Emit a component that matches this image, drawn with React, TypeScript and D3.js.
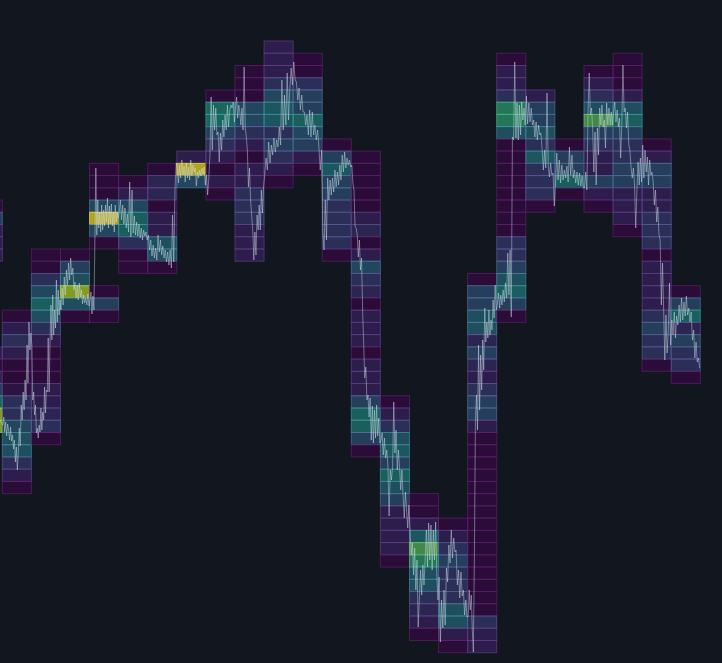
import * as d3 from "d3";

const WIDTH = 722;
const HEIGHT = 663;
const BACKGROUND = "#12161f";

// Session slots, left to right. Slot -1 is cut off by the left edge.
const sessions = [-1, 0, 1, 2, 3, 4, 5, 6, 7, 8, 9, 10, 11, 12, 13, 14, 15, 16, 17, 18, 19, 20, 21, 22, 23];

// Price bin index (0 = top bin) where each session's profile starts.
const profileStart = [13, 22, 17, 17, 10, 11, 10, 9, 4, 2, 0, 1, 8, 9, 29, 37, 39, 19, 1, 4, 8, 2, 1, 8, 20];

// Volume per price bin, null where the session left a hole.
const _ = null;
const profileVolume: (number | null)[][] = [
  [0, 6, 2, 2, 2, _, _, _, _, _, _, _, 2, 0, 3, 6, 11, 18, 18],
  [0, 2, 4, 2, 0, 0, 1, 4, 4, 7, 8, 8, 4, 2, 0],
  [0, 0, 4, 7, 10, 8, 4, 2, 0, 0, 0, 2, 2, 3, 4, 0],
  [0, 6, 8, 18, 8, 0],
  [0, 0, 0, 7, 20, 7, 0, _, _, _, 0, 6, 0],
  [0, 2, 7, 10, 10, 4, 0, 0],
  [0, 3, 3, 0, 2, 2, 8, 8, 0],
  [2, 20, 7],
  [0, 11, 11, 6, 4, 2, 0, 2, 0],
  [0, 0, 0, 7, 7, 4, 2, 0, 2, 2, 4, 4, 4, 2, 2, 2],
  [2, 2, 2, 4, 7, 9, 9, 4, 6, 4, 2, 0],
  [0, 0, 4, 6, 6, 10, 7, 6, 2, 0],
  [0, 6, 9, 6, 6, 4, 4, 4, 4, 0],
  [0, 0, 0, 0, 0, 2, 3, 0, 2, 7, 4, 3, 0, 2, 2, 2, 0, 2, 2, 2, 6, 10, 10, 6, 0],
  [0, 2, 4, 8, 9, 6, 10, 8, 6, 2, 2, 2, 2, 0],
  [0, 0, 2, 9, 15, 13, 8, 8, 4, 3, 2, 0],
  [0, 2, 4, 6, 4, 4, 4, 8, 8, 2, 0],
  [0, 6, 6, 8, 8, 3, 6, 3, 2, 4, 6, 6, 2, 0, 0, 0, 0, 0, 0, 0, 0, 0, 0, 0, 0, 0, 0, 0, 4, 2, 2],
  [0, 2, 2, 4, 13, 13, 8, 0, 0, 0, 0, 0, 0, 0, 0, 4, 4, 6, 8, 10, 6, 0],
  [2, 6, 6, 8, 4, 9, 4, 4, 4, 0],
  [0, 6, 6, 10, 0],
  [0, 2, 4, 8, 15, 6, 4, 2, 2, 6, 2, 0],
  [0, 0, 0, 2, 8, 10, 6, 4, 4, 6, 6, 2, 2, 2, 0],
  [0, 2, 6, 6, 2, 2, 4, 4, 4, 0, 2, 2, 2, 2, 4, 6, 4, 4, 0],
  [0, 6, 10, 3, 6, 4, 4, 0],
];

// Price path per session (700 minus the screen row).
const sessionPrices: number[][] = [
  [285, 275, 283],
  [275, 283, 268, 278, 264, 276, 270, 260, 273, 259, 265, 251, 260, 238, 253, 230, 248, 272, 254, 295, 280, 308, 290, 320, 300, 355, 317, 378, 350, 367],
  [355, 300, 308, 285, 295, 267, 272, 262, 275, 268, 292, 270, 288, 280, 313, 287, 310, 308, 362, 308, 358, 395, 360, 405, 365, 390, 372, 420, 378, 410, 385, 400],
  [390, 412, 395, 423, 405, 430, 415, 437, 420, 442, 425, 432, 410, 418, 402, 415, 400, 417, 403, 410, 396, 405, 397, 402, 395, 406, 394],
  [400, 408, 386, 404, 390, 460, 532, 465, 500, 472, 488, 468, 495, 470, 490, 474, 495, 478, 502, 472, 494, 476, 496, 474, 488, 468, 495, 478, 488, 482],
  [488, 500, 480, 495, 476, 492, 472, 486, 468, 518, 463, 510, 467, 484, 465, 478, 464, 476, 462, 472, 460, 470, 464, 468, 460],
  [465, 450, 460, 444, 455, 442, 452, 440, 465, 448, 460, 445, 454, 442, 450, 438, 448, 435, 450, 432, 485, 438, 510, 537],
  [532, 517, 535, 522, 540, 525, 534, 518, 537, 522, 533, 520, 540, 524, 535, 528, 532, 514, 528, 522, 530, 524, 532, 526, 533, 515],
  [525, 505, 522, 545, 603, 550, 595, 570, 592, 565, 568, 538, 567, 550, 580, 563, 585, 570, 595, 573, 590, 595, 592, 598, 578],
  [592, 603, 582, 595, 588, 575, 592, 570, 633, 573, 563, 550, 513, 532, 500, 485, 470, 440, 468, 445, 485, 470, 495, 470, 510, 487, 512],
  [525, 542, 530, 558, 537, 555, 545, 562, 548, 560, 553, 573, 555, 620, 570, 605, 575, 627, 580, 610, 632, 615],
  [638, 620, 618, 600, 612, 590, 605, 588, 588, 575, 585, 565, 590, 563, 588, 565, 575, 560, 570, 553, 530, 550],
  [468, 450, 500, 460, 522, 500, 520, 505, 522, 508, 530, 513, 528, 515, 535, 520, 545, 528, 548, 532, 542, 535, 540, 533],
  [535, 517, 510, 473, 472, 465, 443, 460, 430, 442, 390, 355, 322, 333, 300, 305, 283, 302, 260, 294, 257, 290, 262, 295, 264, 282, 257],
  [260, 267, 245, 262, 242, 250, 233, 184, 230, 220, 233, 298, 247, 270, 230, 250, 232, 210, 230, 205, 182, 208, 190, 172, 195],
  [170, 145, 157, 125, 152, 110, 140, 73, 100, 130, 105, 135, 115, 142, 170, 133, 177, 140, 175, 130, 170, 140, 178, 125, 100],
  [123, 58, 100, 72, 110, 75, 132, 118, 155, 137, 170, 142, 162, 148, 150, 115, 130, 102, 128, 104, 110, 85, 100, 83],
  [83, 110, 90, 105, 70, 48, 142, 280, 305, 270, 355, 290, 345, 310, 360, 330, 392, 358, 378, 362, 390, 365, 380, 370, 400, 382, 415, 390],
  [395, 407, 392, 405, 395, 410, 398, 417, 402, 447, 405, 450, 383, 563, 560, 638, 562, 597, 560, 595, 565, 598, 580, 592, 575],
  [604, 576, 597, 578, 592, 575, 580, 563, 578, 560, 575, 565, 567, 550, 530, 550, 532, 607, 535, 523, 537, 525, 527, 494],
  [517, 547, 520, 540, 517, 535, 520, 530, 522, 534, 518, 553, 525, 545, 522, 530, 517, 528, 515, 527, 514, 524, 512],
  [512, 528, 510, 588, 627, 585, 592, 570, 528, 568, 515, 572, 545, 592, 575, 595, 573, 580, 552, 597, 575, 592, 575, 588, 575],
  [588, 598, 578, 590, 573, 582, 542, 575, 635, 588, 592, 572, 588, 555, 550, 532, 522, 532, 515, 472, 510, 538, 515, 542, 518],
  [555, 522, 550, 528, 543, 515, 540, 525, 528, 518, 495, 510, 478, 493, 465, 460, 395, 437, 390, 340, 385, 347, 370, 417, 355],
  [380, 365, 388, 362, 384, 375, 395, 378, 402, 380, 398, 384, 404, 385, 392, 378, 388, 360, 370, 342, 358, 338, 342, 332],
];

// Scales
const BIN_COUNT = 50;
const MAX_VOLUME = 20;
const xScale = d3.scaleLinear().domain([-1, 24]).range([-26.78, 700.3]);
const binScale = d3.scaleLinear().domain([0, BIN_COUNT]).range([41, 652.7]);
const priceScale = d3.scaleLinear().domain([659, 47.3]).range([41, 652.7]);
const colorScale = d3.scaleSequential(d3.interpolateViridis).domain([0, MAX_VOLUME]);
const opacityScale = d3.scaleLinear().domain([0, MAX_VOLUME]).range([0.5, 0.68]);
// Cell outlines sit a little lighter than their fill.
const outline = (volume: number) => d3.interpolateRgb(colorScale(volume), "#ffffff")(0.14);

const cells = sessions.flatMap((session, i) =>
  profileVolume[i].flatMap((volume, j) =>
    volume === null ? [] : [{ session, bin: profileStart[i] + j, volume }],
  ),
);

// Points are spread evenly across the slot they belong to.
const pathPoints = sessions.flatMap((session, i) =>
  sessionPrices[i].map((price, j, all) => ({
    t: session + (j + 0.5) / all.length,
    price,
  })),
);

const priceLine = d3
  .line<{ t: number; price: number }>()
  .x((d) => xScale(d.t))
  .y((d) => priceScale(d.price));

export default function App() {
  return (
    <svg
      width={WIDTH}
      height={HEIGHT}
      style={{ position: "fixed", left: 0, top: 0, background: BACKGROUND }}
    >
      <g>
        {cells.map((d) => (
          <rect
            key={`${d.session}-${d.bin}`}
            x={xScale(d.session)}
            y={binScale(d.bin)}
            width={xScale(d.session + 1) - xScale(d.session)}
            height={binScale(d.bin + 1) - binScale(d.bin)}
            fill={colorScale(d.volume)}
            fillOpacity={opacityScale(d.volume)}
            stroke={outline(d.volume)}
            strokeOpacity={0.65}
            strokeWidth={1}
          />
        ))}
      </g>
      <path
        d={priceLine(pathPoints) ?? ""}
        fill="none"
        stroke="#d6e6ee"
        strokeOpacity={0.55}
        strokeWidth={0.8}
        strokeLinejoin="round"
      />
    </svg>
  );
}
